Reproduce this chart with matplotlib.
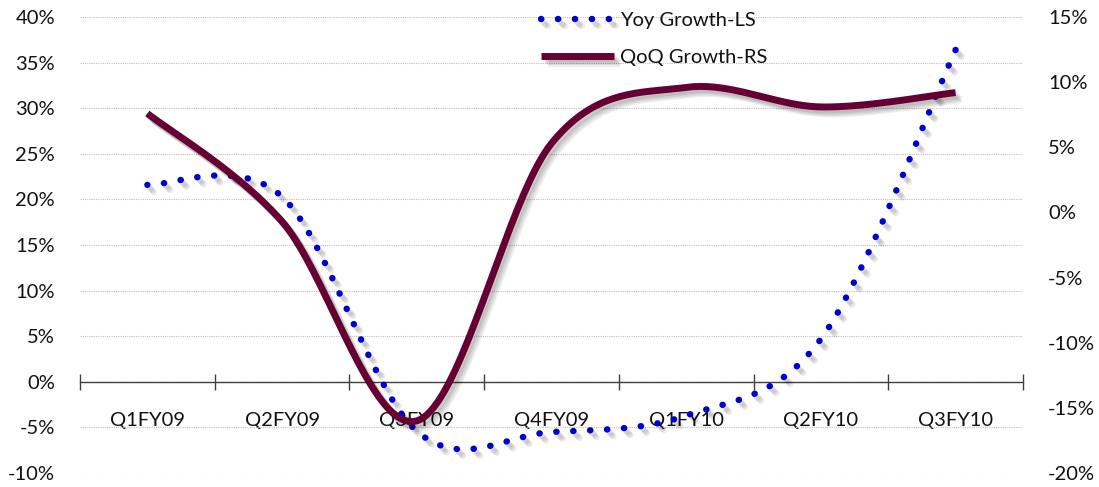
import numpy as np
import matplotlib.pyplot as plt
import matplotlib.patheffects as pe
from matplotlib.ticker import FuncFormatter

plt.rcParams['font.family'] = ['Lato', 'DejaVu Sans']

quarters = ['Q1FY09', 'Q2FY09', 'Q3FY09', 'Q4FY09', 'Q1FY10', 'Q2FY10', 'Q3FY10']
yoy_growth = [21.6, 20.3, -5.4, -5.5, -3.7, 4.7, 36.4]   # left scale, %
qoq_growth = [7.6, -0.7, -16.0, 5.3, 9.6, 8.1, 9.2]      # right scale, %


def smooth(x, y, n=40):
    # bezier smoothing like a spreadsheet "smoothed line"
    p = np.column_stack([x, y]).astype(float)
    ext = np.vstack([p[0], p, p[-1]])
    t = np.linspace(0, 1, n)[:, None]
    out = []
    for i in range(len(p) - 1):
        b0 = ext[i + 1]
        b3 = ext[i + 2]
        b1 = b0 + (ext[i + 2] - ext[i]) / 6
        b2 = b3 - (ext[i + 3] - ext[i + 1]) / 6
        seg = ((1 - t) ** 3) * b0 + 3 * ((1 - t) ** 2) * t * b1 + 3 * (1 - t) * t ** 2 * b2 + t ** 3 * b3
        out.append(seg if i == 0 else seg[1:])
    out = np.vstack(out)
    return out[:, 0], out[:, 1]


x = np.arange(len(quarters))
# soft drop shadow: a few faint offset copies
shadow = [pe.SimpleLineShadow(offset=(d, -d - 0.5), shadow_color='k', alpha=0.07, rho=1)
          for d in (1.5, 2.5, 3.5, 4.5)] + [pe.Normal()]

fig = plt.figure(figsize=(10.99, 4.87), dpi=100)
ax = fig.add_axes([0.0728, 0.0287, 0.858, 0.9363])
ax2 = ax.twinx()

sx, sy = smooth(x, yoy_growth)
# drawn from the last quarter backwards so a dot sits on the latest value
l1, = ax.plot(sx[::-1], sy[::-1], color='#0000CC', lw=4.6, linestyle=(0, (0.05, 2.6)),
              dash_capstyle='round', path_effects=shadow, zorder=3, label='Yoy Growth-LS')
qx, qy = smooth(x, qoq_growth)
l2, = ax2.plot(qx, qy, color='#660033', lw=5, solid_capstyle='butt',
               path_effects=shadow, label='QoQ Growth-RS')

ax.set_xlim(-0.5, len(quarters) - 0.5)
ax.set_ylim(-10, 40)
ax2.set_ylim(-20, 15)
ax.set_yticks(np.arange(-10, 41, 5))
ax2.set_yticks(np.arange(-20, 16, 5))
pct = FuncFormatter(lambda v, _: f'{v:.0f}%')
ax.yaxis.set_major_formatter(pct)
ax2.yaxis.set_major_formatter(pct)

for a in (ax, ax2):
    for s in a.spines.values():
        s.set_visible(False)
ax.spines['bottom'].set_visible(True)
ax.spines['bottom'].set_position(('data', 0))
ax.spines['bottom'].set_color('#404040')
ax.spines['bottom'].set_linewidth(1)

ax.grid(axis='y', color='#BFBFBF', linestyle=(0, (1, 1)), lw=0.8)
ax.set_axisbelow(True)

ax.set_xticks(np.arange(len(quarters) + 1) - 0.5)
ax.set_xticklabels([])
ax.set_xticks(x, minor=True)
ax.set_xticklabels(quarters, minor=True)
ax.tick_params(axis='x', which='major', direction='inout', length=12, color='#404040', width=1)
ax.tick_params(axis='x', which='minor', length=0, pad=22, labelsize=14.5, labelcolor='#111111')
ax.tick_params(axis='y', length=0, pad=18, labelsize=14.5, labelcolor='#111111')
ax2.tick_params(axis='y', length=0, pad=18, labelsize=14.5, labelcolor='#111111')

ax2.legend(handles=[l1, l2], loc='upper left', bbox_to_anchor=(0.47, 1.05), frameon=False,
           fontsize=14.5, handlelength=3.6, handletextpad=0.3, labelspacing=0.95,
           labelcolor='#111111')

fig.savefig('out.png', dpi=100)
